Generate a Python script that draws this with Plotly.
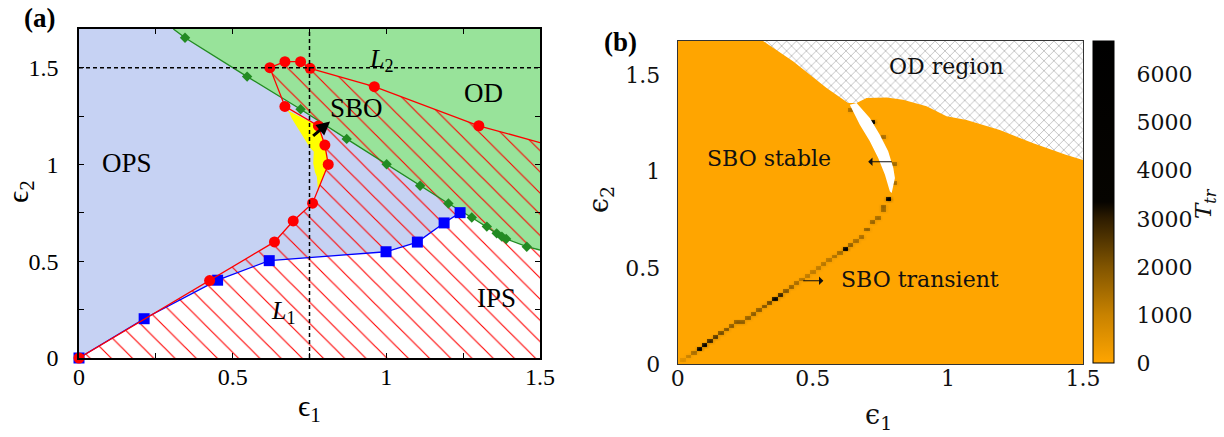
import numpy as np
import plotly.graph_objects as go

W, H = 1224, 437

# ---------------- panel (a): phase diagram in the (eps1, eps2) plane ----------------
# SBO boundary (red circles), from the origin round the loop and out to the right edge
sbo_e1 = [0.0, 0.425, 0.636, 0.697, 0.760, 0.811, 0.800, 0.779, 0.670, 0.621, 0.670, 0.721, 0.752, 0.961, 1.301, 1.5]
sbo_e2 = [0.0, 0.400, 0.600, 0.708, 0.800, 1.000, 1.100, 1.199, 1.300, 1.500, 1.531, 1.531, 1.497, 1.402, 1.200, 1.113]
sbo_marked = [True] * 15 + [False]

# OD boundary (green diamonds)
od_e1 = [0.307, 0.345, 0.547, 0.721, 0.871, 1.001, 1.110, 1.202, 1.278, 1.327, 1.359, 1.376, 1.390, 1.457, 1.5]
od_e2 = [1.700, 1.655, 1.454, 1.285, 1.132, 1.001, 0.890, 0.798, 0.726, 0.679, 0.644, 0.627, 0.615, 0.575, 0.558]
od_marked = [False] + [True] * 13 + [False]

# IPS boundary (blue squares)
ips_e1 = [0.0, 0.212, 0.451, 0.619, 0.999, 1.101, 1.188, 1.240]
ips_e2 = [0.0, 0.203, 0.402, 0.503, 0.549, 0.599, 0.698, 0.751]

# bistable pocket (yellow)
yel_e1 = [0.676, 0.779, 0.800, 0.811, 0.785, 0.778, 0.774, 0.768, 0.762, 0.764, 0.750, 0.735, 0.722, 0.712, 0.692, 0.686]
yel_e2 = [1.282, 1.199, 1.100, 1.000, 0.900, 0.859, 0.937, 0.960, 1.006, 1.066, 1.090, 1.127, 1.160, 1.190, 1.239, 1.262]

# cuts L1 (eps1 = const) and L2 (eps2 = const)
L1_e1 = 0.75
L2_e2 = 1.5

A_XMAX, A_YMAX = 1.5, 1.70

BLUE_BG = "#C6D2F3"
GREEN_BG = "#98E39A"
RED = "#FF0000"
SERIF_A = "Liberation Serif, DejaVu Serif, serif"
SERIF_B = "DejaVu Serif, serif"

# ---------------- panel (b): transient time T_tr ----------------
grid_step = 0.02
B_XMAX, B_YMAX = 1.5, 1.68

# cells with a long transient (eps1, eps2, T_tr)
tr_e1 = [0.02, 0.04, 0.06, 0.08, 0.10, 0.12, 0.14, 0.16, 0.18, 0.20, 0.22, 0.24, 0.26, 0.28, 0.30,
         0.32, 0.34, 0.36, 0.38, 0.40, 0.42, 0.44, 0.46, 0.48, 0.50, 0.52, 0.54, 0.56, 0.58, 0.60,
         0.62, 0.64, 0.66, 0.68, 0.70, 0.72, 0.74, 0.76, 0.76, 0.78,
         0.64, 0.72, 0.76, 0.80, 0.80]
tr_e2 = [0.02, 0.04, 0.06, 0.08, 0.10, 0.12, 0.14, 0.16, 0.18, 0.20, 0.22, 0.22, 0.24, 0.26, 0.28,
         0.30, 0.32, 0.34, 0.36, 0.38, 0.40, 0.42, 0.44, 0.46, 0.48, 0.50, 0.52, 0.54, 0.56, 0.58,
         0.60, 0.62, 0.64, 0.66, 0.70, 0.74, 0.76, 0.80, 0.82, 0.86,
         1.32, 1.26, 1.18, 1.04, 0.94]
tr_T = [600, 1000, 1500, 4500, 4200, 3000, 2600, 2200, 2000, 1900, 1900, 1800, 1800, 1900, 1900,
        2000, 2300, 4500, 3000, 2000, 1700, 1500, 1300, 1200, 1200, 1200, 1300, 1300, 1400, 1600,
        5000, 1800, 1500, 1500, 1800, 1700, 1600, 1600, 1700, 5000,
        1500, 4500, 1500, 1600, 1500]

# OD region boundary (cross-hatched)
odb_e1 = [0.316, 0.428, 0.551, 0.631, 0.662, 0.699, 0.773, 0.834, 0.921, 0.995, 1.069, 1.192, 1.316, 1.439, 1.5]
odb_e2 = [1.680, 1.574, 1.435, 1.357, 1.357, 1.383, 1.386, 1.374, 1.340, 1.288, 1.269, 1.217, 1.148, 1.087, 1.061]

# stable SBO crescent (white)
cres_e1 = [0.662, 0.711, 0.748, 0.779, 0.798, 0.804, 0.792, 0.785, 0.767, 0.742, 0.711, 0.674, 0.637]
cres_e2 = [1.357, 1.279, 1.192, 1.106, 1.019, 0.967, 0.889, 0.898, 0.984, 1.071, 1.158, 1.244, 1.348]

T_MAX = 6700
cbar_ticks = [0, 1000, 2000, 3000, 4000, 5000, 6000]


def px(x):
    return x / W


def py(y):
    return 1 - y / H


def sized(flags, size):
    return [size if f else 0 for f in flags]


fig = go.Figure()

# ---- panel (a) areas ----
fig.add_trace(go.Scatter(
    x=od_e1 + [A_XMAX], y=od_e2 + [A_YMAX], fill="toself", fillcolor=GREEN_BG,
    mode="lines", line=dict(width=0), hoverinfo="skip", showlegend=False, xaxis="x", yaxis="y"))

tail = [(a, b) for a, b in zip(od_e1, od_e2) if a > ips_e1[-1]]
fig.add_trace(go.Scatter(
    x=ips_e1 + [a for a, _ in tail] + [A_XMAX], y=ips_e2 + [b for _, b in tail] + [0.0],
    fill="toself", fillcolor="white", mode="lines", line=dict(width=0),
    hoverinfo="skip", showlegend=False, xaxis="x", yaxis="y"))

fig.add_trace(go.Scatter(
    x=yel_e1, y=yel_e2, fill="toself", fillcolor="#FFFF00", mode="lines", line=dict(width=0),
    hoverinfo="skip", showlegend=False, xaxis="x", yaxis="y"))

# hatched SBO region (right of the red boundary)
fig.add_trace(go.Scatter(
    x=sbo_e1 + [A_XMAX], y=sbo_e2 + [0.0], fill="toself", fillcolor="rgba(0,0,0,0)",
    fillpattern=dict(shape="\\", fgcolor=RED, fgopacity=1, bgcolor="rgba(0,0,0,0)",
                     size=15, solidity=0.075),
    mode="lines", line=dict(width=0), hoverinfo="skip", showlegend=False, xaxis="x", yaxis="y"))

# ---- panel (a) boundaries ----
fig.add_trace(go.Scatter(
    x=od_e1, y=od_e2, mode="lines+markers", line=dict(color="#228B22", width=1.3),
    marker=dict(symbol="diamond", size=sized(od_marked, 8), color="#228B22", opacity=1,
                line=dict(width=0)),
    hoverinfo="skip", showlegend=False, xaxis="x", yaxis="y"))
fig.add_trace(go.Scatter(
    x=ips_e1, y=ips_e2, mode="lines+markers", line=dict(color="#0000FF", width=1.3),
    marker=dict(symbol="square", size=11, color="#0000FF", opacity=1, line=dict(width=0)),
    cliponaxis=False, hoverinfo="skip", showlegend=False, xaxis="x", yaxis="y"))
fig.add_trace(go.Scatter(
    x=sbo_e1, y=sbo_e2, mode="lines+markers", line=dict(color=RED, width=1.3),
    marker=dict(symbol="circle", size=sized(sbo_marked, 11), color=RED, opacity=1,
                line=dict(width=0)),
    cliponaxis=False, hoverinfo="skip", showlegend=False, xaxis="x", yaxis="y"))

# dashed cuts
fig.add_trace(go.Scatter(
    x=[L1_e1, L1_e1], y=[0, A_YMAX], mode="lines", line=dict(color="black", width=1.5, dash="4px,3px"),
    hoverinfo="skip", showlegend=False, xaxis="x", yaxis="y"))
fig.add_trace(go.Scatter(
    x=[0, A_XMAX], y=[L2_e2, L2_e2], mode="lines", line=dict(color="black", width=1.5, dash="4px,3px"),
    hoverinfo="skip", showlegend=False, xaxis="x", yaxis="y"))

# ---- panel (b) ----
grid_e1 = np.round(np.arange(0, B_XMAX + 1e-9, grid_step), 2)
grid_e2 = np.round(np.arange(0, B_YMAX + 1e-9, grid_step), 2)
T = np.zeros((len(grid_e2), len(grid_e1)))
for a, b, t in zip(tr_e1, tr_e2, tr_T):
    T[int(round(b / grid_step)), int(round(a / grid_step))] = t

colorscale = [
    [0.0, "rgb(255,165,0)"],
    [0.15, "rgb(200,130,0)"],
    [0.30, "rgb(128,84,0)"],
    [0.45, "rgb(45,28,0)"],
    [0.50, "rgb(6,4,0)"],
    [1.0, "rgb(0,0,0)"],
]
fig.add_trace(go.Heatmap(
    x=grid_e1, y=grid_e2, z=T, zmin=0, zmax=T_MAX, colorscale=colorscale,
    hoverinfo="skip", xaxis="x2", yaxis="y2",
    colorbar=dict(
        x=px(1092.7), xanchor="left", y=py(363), yanchor="bottom",
        len=322, lenmode="pixels", thickness=21, thicknessmode="pixels",
        xpad=0, ypad=0, outlinecolor="black", outlinewidth=1,
        tickvals=cbar_ticks, ticks="outside", ticklen=18, tickcolor="rgba(0,0,0,0)",
        tickfont=dict(family=SERIF_B, size=22, color="#111"),
    )))
# same field, smoothly interpolated and half transparent: soft shading around the cells
fig.add_trace(go.Heatmap(
    x=grid_e1, y=grid_e2, z=T, zmin=0, zmax=T_MAX, colorscale=colorscale, zsmooth="best",
    opacity=0.3, showscale=False, hoverinfo="skip", xaxis="x2", yaxis="y2"))

fig.add_trace(go.Scatter(
    x=odb_e1 + [B_XMAX], y=odb_e2 + [B_YMAX], fill="toself", fillcolor="white",
    fillpattern=dict(shape="x", fgcolor="#9c9c9c", fgopacity=1, bgcolor="white", size=7, solidity=0.16),
    mode="lines", line=dict(width=0), hoverinfo="skip", showlegend=False, xaxis="x2", yaxis="y2"))
fig.add_trace(go.Scatter(
    x=cres_e1, y=cres_e2, fill="toself", fillcolor="white", mode="lines", line=dict(width=0),
    hoverinfo="skip", showlegend=False, xaxis="x2", yaxis="y2"))

# ---- axes ----
tick_a = [0, 0.25, 0.5, 0.75, 1.0, 1.25, 1.5]
tick_a_txt = ["0", "", "0.5", "", "1", "", "1.5"]
fig.update_layout(
    width=W, height=H, margin=dict(l=0, r=0, t=0, b=0, autoexpand=False),
    paper_bgcolor="white", plot_bgcolor=BLUE_BG, showlegend=False,
    xaxis=dict(domain=[px(79), px(540)], range=[0, A_XMAX], showgrid=False, zeroline=False,
               automargin=False,
               tickvals=tick_a, ticktext=tick_a_txt, ticks="inside", ticklen=5, tickwidth=1,
               tickcolor="black", mirror="ticks", showline=True, linecolor="black", linewidth=1.5,
               tickfont=dict(family=SERIF_A, size=24, color="black"), ticklabelstandoff=-4,
               anchor="y"),
    yaxis=dict(domain=[py(358), py(29)], range=[0, A_YMAX], showgrid=False, zeroline=False,
               automargin=False,
               tickvals=tick_a, ticktext=tick_a_txt, ticks="inside", ticklen=5, tickwidth=1,
               tickcolor="black", mirror="ticks", showline=True, linecolor="black", linewidth=1.5,
               tickfont=dict(family=SERIF_A, size=24, color="black"), ticklabelstandoff=14,
               anchor="x"),
    xaxis2=dict(domain=[px(677.7), px(1083)], range=[0, B_XMAX], showgrid=False, zeroline=False,
                automargin=False,
                tickvals=[0, 0.5, 1, 1.5], ticktext=["0", "0.5", "1", "1.5"], ticks="",
                showline=True, mirror=True, linecolor="#333", linewidth=1.2,
                tickfont=dict(family=SERIF_B, size=22, color="#111"), ticklabelstandoff=-6,
                anchor="y2"),
    yaxis2=dict(domain=[py(364), py(41)], range=[0, B_YMAX], showgrid=False, zeroline=False,
                automargin=False,
                tickvals=[0, 0.5, 1, 1.5], ticktext=["0", "0.5", "1", "1.5"], ticks="",
                showline=True, mirror=True, linecolor="#333", linewidth=1.2,
                tickfont=dict(family=SERIF_B, size=22, color="#111"), ticklabelstandoff=12,
                anchor="x2"),
)

ann = []


def label(x, y, text, size, family, ref="a", angle=0, color="black"):
    xr, yr = ("x", "y") if ref == "a" else ("x2", "y2")
    if ref == "paper":
        xr, yr = "paper", "paper"
    ann.append(dict(x=x, y=y, xref=xr, yref=yr, text=text, showarrow=False, textangle=angle,
                    font=dict(family=family, size=size, color=color), xanchor="center", yanchor="middle"))


# panel (a) region labels
label(0.155, 1.006, "OPS", 27, SERIF_A)
label(0.904, 1.290, "SBO", 27, SERIF_A)
label(1.316, 1.368, "OD", 27, SERIF_A)
label(1.359, 0.309, "IPS", 27, SERIF_A)
label(0.665, 0.239, "<i>L</i><sub>1</sub>", 26, SERIF_A)
label(0.985, 1.540, "<i>L</i><sub>2</sub>", 26, SERIF_A)

# panel (b) region labels
label(0.338, 1.070, "SBO stable", 22, SERIF_B, ref="b", color="#111")
label(0.895, 0.439, "SBO transient", 22, SERIF_B, ref="b", color="#111")
label(0.995, 1.546, "OD region", 22, SERIF_B, ref="b", color="#111")

# panel letters and axis titles
label(px(39), py(18), "<b>(a)</b>", 27, SERIF_A, ref="paper")
label(px(620), py(42), "<b>(b)</b>", 27, SERIF_A, ref="paper")
label(px(309), py(408), "ϵ<sub>1</sub>", 30, SERIF_A, ref="paper")
label(px(20), py(192), "ϵ<sub>2</sub>", 30, SERIF_A, ref="paper", angle=-90)
label(px(878), py(416), "ϵ<sub>1</sub>", 27, SERIF_B, ref="paper", color="#111")
label(px(600), py(200), "ϵ<sub>2</sub>", 27, SERIF_B, ref="paper", angle=-90, color="#111")
label(px(1205), py(204), "<i>T</i><sub><i>tr</i></sub>", 23, SERIF_B, ref="paper", angle=-90, color="#111")

# arrows
ann.append(dict(x=0.817, y=1.222, ax=0.757, ay=1.141, xref="x", yref="y", axref="x", ayref="y",
                text="", showarrow=True, arrowhead=2, arrowsize=0.9, arrowwidth=3, arrowcolor="black"))
ann.append(dict(x=0.705, y=1.052, ax=0.798, ay=1.052, xref="x2", yref="y2", axref="x2", ayref="y2",
                text="", showarrow=True, arrowhead=1, arrowsize=1.2, arrowwidth=1.2, arrowcolor="#111"))
ann.append(dict(x=0.539, y=0.433, ax=0.459, ay=0.433, xref="x2", yref="y2", axref="x2", ayref="y2",
                text="", showarrow=True, arrowhead=1, arrowsize=1.2, arrowwidth=1.2, arrowcolor="#111"))

fig.update_layout(annotations=ann)

fig.write_html("out.html")
